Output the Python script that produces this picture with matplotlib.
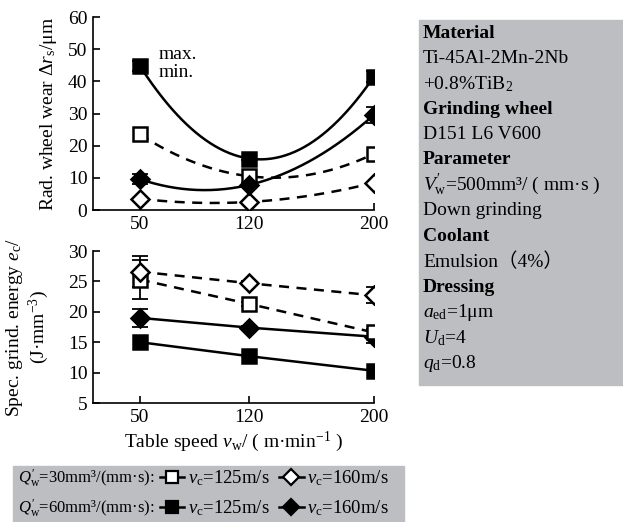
import matplotlib
matplotlib.use("Agg")
import matplotlib.pyplot as plt
from matplotlib.lines import Line2D
from matplotlib.patches import Rectangle
import numpy as np

plt.rcParams['font.family'] = ['Liberation Serif', 'Noto Sans CJK SC']
plt.rcParams['mathtext.fontset'] = 'custom'
plt.rcParams['mathtext.rm'] = 'Liberation Serif'
plt.rcParams['mathtext.it'] = 'Liberation Serif:italic'
plt.rcParams['mathtext.bf'] = 'Liberation Serif:bold'
plt.rcParams['mathtext.fallback'] = 'stix'
plt.rcParams['font.size'] = 14

# table speed v_w (m/min)
speeds = [50, 120, 200]

# radial wheel wear (um)
wear_q30_vc125 = [23.5, 10.5, 17.5]
wear_q30_vc160 = [3.5, 2.5, 8.5]
wear_q60_vc125 = [44.8, 16.0, 41.5]
wear_q60_vc160 = [9.6, 7.8, 29.6]
wear_err_q60_vc125 = [1.5, 0.5, 1.8]
wear_err_q60_vc160 = [1.6, 0.5, 2.5]

# specific grinding energy (J/mm^3)
energy_q30_vc125 = [25.3, 21.3, 16.6]
energy_q30_vc160 = [26.6, 24.7, 22.7]
energy_q60_vc125 = [15.0, 12.7, 10.3]
energy_q60_vc160 = [19.0, 17.4, 15.9]
energy_err_q30_vc125 = [3.2, 0.3, 0.6]
energy_err_q30_vc160 = [2.6, 0.3, 1.3]
energy_err_q60_vc160 = [1.5, 0.3, 1.1]

info_lines = [
    ("Material", True),
    ("Ti-45Al-2Mn-2Nb", False),
    ("+0.8%TiB$_2$", False),
    ("Grinding wheel", True),
    ("D151 L6 V600", False),
    ("Parameter", True),
    ("$V^{\\prime}_\\mathrm{w}$=500mm³/ ( mm·s )", False),
    ("Down grinding", False),
    ("Coolant", True),
    ("Emulsion（4%）", False),
    ("Dressing", True),
    ("$a_\\mathrm{ed}$=1μm", False),
    ("$U_\\mathrm{d}$=4", False),
    ("$q_\\mathrm{d}$=0.8", False),
]

W, H = 623, 522
fig = plt.figure(figsize=(W / 100, H / 100), dpi=100)
gray = '#bdbec2'


def fx(px):
    return px / W


def fy(py):
    return 1 - py / H


ax1 = fig.add_axes([fx(93), fy(210), fx(374) - fx(93), fy(17) - fy(210)])
ax2 = fig.add_axes([fx(93), fy(403), fx(374) - fx(93), fy(251) - fy(403)])

styles = {
    'q30_125': dict(marker='s', mfc='white', mec='black', ls='--'),
    'q30_160': dict(marker='D', mfc='white', mec='black', ls='--'),
    'q60_125': dict(marker='s', mfc='black', mec='black', ls='-'),
    'q60_160': dict(marker='D', mfc='black', mec='black', ls='-'),
}
msize = {'s': 10, 'D': 9}

# top panel: quadratic trend curves through measured points
xs = np.linspace(50, 200, 200)
top_series = [
    ('q30_125', wear_q30_vc125, None),
    ('q30_160', wear_q30_vc160, None),
    ('q60_160', wear_q60_vc160, wear_err_q60_vc160),
    ('q60_125', wear_q60_vc125, wear_err_q60_vc125),
]
for key, vals, err in top_series:
    st = styles[key]
    coef = np.polyfit(speeds, vals, 2)
    ax1.plot(xs, np.polyval(coef, xs), color='black', lw=1.8,
             dashes=(4, 3) if st['ls'] == '--' else (None, None), zorder=2)
    if err is not None:
        ax1.errorbar(speeds, vals, yerr=err, fmt='none', ecolor='black',
                     elinewidth=1.3, capsize=6, capthick=1.3, zorder=3)
    ax1.plot(speeds, vals, ls='none', marker=st['marker'], ms=msize[st['marker']],
             mfc=st['mfc'], mec=st['mec'], mew=1.8, zorder=4)

ax1.text(62, 47, 'max.', fontsize=14)
ax1.text(62, 41.5, 'min.', fontsize=14)

# bottom panel
bottom_series = [
    ('q60_125', energy_q60_vc125, None),
    ('q60_160', energy_q60_vc160, energy_err_q60_vc160),
    ('q30_125', energy_q30_vc125, energy_err_q30_vc125),
    ('q30_160', energy_q30_vc160, energy_err_q30_vc160),
]
for key, vals, err in bottom_series:
    st = styles[key]
    if err is not None:
        ax2.errorbar(speeds, vals, yerr=err, fmt='none', ecolor='black',
                     elinewidth=1.3, capsize=6, capthick=1.3, zorder=3)
    ax2.plot(speeds, vals, color='black', lw=1.8,
             dashes=(4, 3) if st['ls'] == '--' else (None, None),
             marker=st['marker'], ms=msize[st['marker']],
             mfc=st['mfc'], mec=st['mec'], mew=1.8, zorder=4)

for ax in (ax1, ax2):
    ax.set_xlim(20, 200)
    ax.set_xticks(speeds)
    ax.spines['top'].set_visible(False)
    ax.spines['right'].set_visible(False)
    for s in ('left', 'bottom'):
        ax.spines[s].set_linewidth(1.2)
    ax.tick_params(direction='in', length=5, width=1.2, labelsize=14, pad=4)

ax1.set_ylim(0, 60)
ax1.set_yticks(range(0, 61, 10))
ax2.set_ylim(5, 30)
ax2.set_yticks(range(5, 31, 5))

ax1.set_ylabel('Rad. wheel wear $\\Delta r_\\mathrm{s}$/μm', fontsize=14, labelpad=6)
ax2.set_ylabel('Spec. grind. energy $e_\\mathrm{c}$/\n(J·mm$^{-3}$)', fontsize=14,
               labelpad=12, linespacing=1.1)
ax2.set_xlabel('Table speed $v_\\mathrm{w}$/ ( m·min$^{-1}$ )', fontsize=14, labelpad=3)

# parameter box on the right
fig.patches.append(Rectangle((fx(419), fy(385)), fx(623) - fx(419), fy(20) - fy(385),
                             transform=fig.transFigure, color=gray, zorder=0))
for i, (txt, bold) in enumerate(info_lines):
    fig.text(fx(423), fy(33 + 25.4 * i), txt, fontsize=14, va='center',
             fontweight='bold' if bold else 'normal')

# legend box at the bottom
fig.patches.append(Rectangle((fx(13), 0), fx(404) - fx(13), fy(466),
                             transform=fig.transFigure, color=gray, zorder=0))


def handle(key):
    st = styles[key]
    return Line2D([], [], color='black', lw=1.8, ls='-', marker=st['marker'],
                  ms=msize[st['marker']] - 1, mfc=st['mfc'], mec='black', mew=1.6)


rows = [
    ("$Q^{\\prime}_\\mathrm{w}$=30mm³/(mm·s):", ['q30_125', 'q30_160'], 478),
    ("$Q^{\\prime}_\\mathrm{w}$=60mm³/(mm·s):", ['q60_125', 'q60_160'], 508),
]
for prefix, keys, ypx in rows:
    fig.text(fx(18), fy(ypx), prefix, fontsize=12, va='center')
    fig.legend([handle(k) for k in keys],
               ['$v_\\mathrm{c}$=125m/s', '$v_\\mathrm{c}$=160m/s'],
               loc='center left', bbox_to_anchor=(fx(160), fy(ypx)),
               ncol=2, frameon=False, fontsize=13.5, handlelength=1.3,
               handletextpad=0.2, columnspacing=0.5, borderpad=0,
               borderaxespad=0)

fig.savefig('out.png', dpi=100)
